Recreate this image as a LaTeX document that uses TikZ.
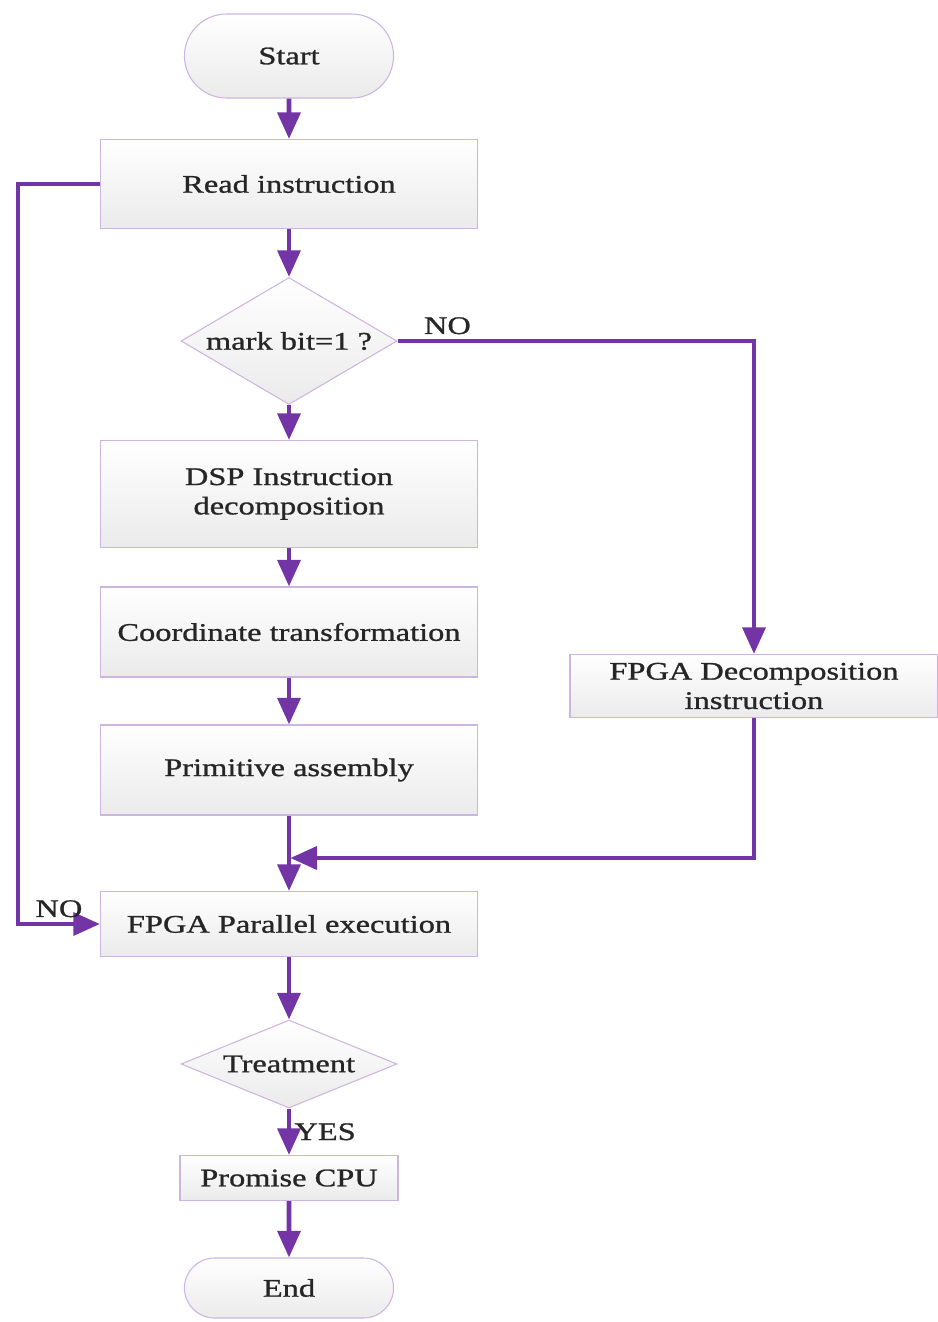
\documentclass[tikz,border=0pt]{standalone}
\usepackage{fontspec}
\setmainfont{Liberation Serif}[FakeStretch=1.28,FakeBold=1]
\usepackage{tikz}
\usetikzlibrary{
    arrows.meta,
    positioning,
    shapes.geometric,
    shapes.misc
}
\definecolor{flowpurple}{RGB}{115,52,165}
\definecolor{edgepurple}{RGB}{205,180,225}

\begin{document}
\begin{tikzpicture}[
    x=0.75pt, y=-0.75pt,
    font=\fontsize{19}{22}\selectfont,
    box/.style={
        rectangle,
        draw=edgepurple,
        line width=0.8pt,
        top color=white,
        bottom color=black!8,
        text=black!85,
        align=center,
        minimum width=282.75pt,
        inner sep=2pt
    },
    term/.style={
        rounded rectangle,
        draw=edgepurple,
        line width=0.8pt,
        top color=white,
        bottom color=black!8,
        text=black!85,
        minimum width=163.5pt
    },
    decision/.style={
        diamond,
        draw=edgepurple,
        line width=0.8pt,
        top color=white,
        bottom color=black!8,
        text=black!85,
        inner sep=0pt,
        minimum width=162pt
    },
    tag/.style={text=black!85},
    arrow/.style={-{Triangle[length=20pt,width=17pt]}, line width=3.5pt, flowpurple},
    link/.style={line width=3.5pt, flowpurple}
]
\useasboundingbox (0,0) rectangle (938,1322);

% ===== main column =====
\node[term, minimum height=63pt] (start) at (289,56) {Start};
\node[box, minimum height=66.75pt] (read) at (289,184) {Read instruction};
\node[decision, aspect=1.7, minimum height=95.25pt] (mark) at (289,341) {mark bit=1 ?};
\node[box, minimum height=80.25pt] (dsp) at (289,494) {DSP Instruction\\decomposition};
\node[box, minimum height=67.5pt] (coord) at (289,632) {Coordinate transformation};
\node[box, minimum height=67.5pt] (prim) at (289,770) {Primitive assembly};
\node[box, minimum height=48.75pt] (par) at (289,924) {FPGA Parallel execution};
\node[decision, aspect=2.45, minimum height=66pt] (treat) at (289,1064) {Treatment};
\node[box, minimum width=163.5pt, minimum height=33.75pt] (cpu) at (289,1178) {Promise CPU};
\node[term, minimum height=45pt] (end) at (289,1288) {End};

% ===== side branch =====
\node[box, minimum width=276pt, minimum height=47.25pt] (fdec) at (754,686) {FPGA Decomposition\\instruction};
\coordinate (join) at (289,858);

\draw[arrow] (start) -- (read);
\draw[arrow] (read) -- (mark);
\draw[arrow] (mark) -- (dsp);
\draw[arrow] (dsp) -- (coord);
\draw[arrow] (coord) -- (prim);
\draw[arrow] (prim) -- (par);
\draw[arrow] (par) -- (treat);
\draw[arrow] (treat) -- node[tag, right=-1pt, pos=0.5]{YES} (cpu);
\draw[arrow] (cpu) -- (end);

\draw[arrow] (mark.east) -| node[tag, above, pos=0.07]{NO} (fdec.north);
\draw[arrow, shorten >=1pt] (fdec.south) |- (join);
\draw[arrow] (read.west) -- ++(-82,0) |- node[tag, above, pos=0.75]{NO} (par.west);

\end{tikzpicture}
\end{document}
